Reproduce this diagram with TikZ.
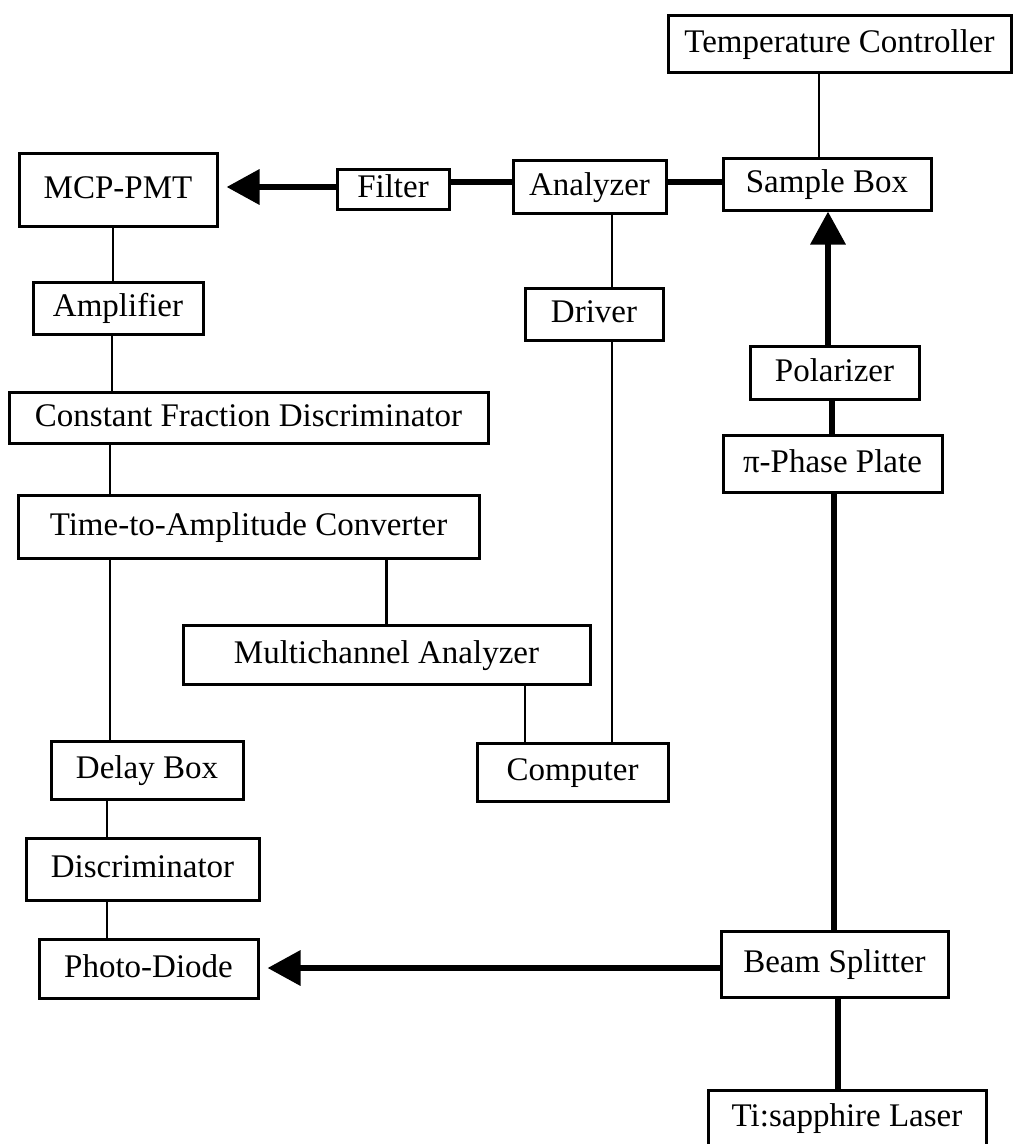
\documentclass[tikz,border=0pt]{standalone}
\usepackage{fontspec}
\setmainfont{Liberation Serif}
\usetikzlibrary{arrows.meta}
\tikzset{
  box/.style={draw, line width=3pt, inner sep=0pt, text height=22pt, text depth=5pt, font=\fontsize{33}{36}\selectfont},
  thinline/.style={line width=2.2pt},
  beam/.style={line width=6.5pt},
  bigarrow/.style={line width=6.5pt, -{Triangle[length=33pt,width=34pt]}},
}
\begin{document}
\begin{tikzpicture}[x=1pt,y=-1pt]
\useasboundingbox (0,0) rectangle (1013,1144);
\clip (0,0) rectangle (1013,1144);
% boxes
\node[box, minimum width=343pt, minimum height=57pt] (tc)  at (839.5,43.5) {Temperature Controller};
\node[box, minimum width=208pt, minimum height=52pt] (sb)  at (827,184)    {Sample Box};
\node[box, minimum width=153pt, minimum height=53pt] (an)  at (589.5,186.5) {Analyzer};
\node[box, minimum width=112pt, minimum height=40pt] (fi)  at (393,189)    {Filter};
\node[box, minimum width=198pt, minimum height=73pt] (mcp) at (118,189.5)  {MCP-PMT};
\node[box, minimum width=170pt, minimum height=52pt] (amp) at (118,308)    {Amplifier};
\node[box, minimum width=138pt, minimum height=52pt] (dr)  at (594,314)    {Driver};
\node[box, minimum width=169pt, minimum height=53pt] (pol) at (834.5,372.5) {Polarizer};
\node[box, minimum width=479pt, minimum height=51pt] (cfd) at (248.5,417.5) {Constant Fraction Discriminator};
\node[box, minimum width=219pt, minimum height=57pt] (ppp) at (832.5,463.5) {π-Phase Plate};
\node[box, minimum width=461pt, minimum height=63pt] (tac) at (248.5,526.5) {Time-to-Amplitude Converter};
\node[box, minimum width=407pt, minimum height=59pt] (mca) at (386.5,654.5) {Multichannel Analyzer};
\node[box, minimum width=192pt, minimum height=58pt] (dly) at (147,770)    {Delay Box};
\node[box, minimum width=191pt, minimum height=58pt] (cmp) at (572.5,772)  {Computer};
\node[box, minimum width=233pt, minimum height=62pt] (dis) at (142.5,869)  {Discriminator};
\node[box, minimum width=219pt, minimum height=59pt] (pd)  at (148.5,968.5) {Photo-Diode};
\node[box, minimum width=227pt, minimum height=66pt] (bs)  at (834.5,964)  {Beam Splitter};
\node[box, minimum width=278pt, minimum height=56pt] (ti)  at (847,1118)   {Ti:sapphire Laser};
% helper coordinates for connector positions
\coordinate (xTC) at (819,0);
\coordinate (xMCP) at (113,0);
\coordinate (xAMP) at (112,0);
\coordinate (xCFD) at (110,0);
\coordinate (xDLY) at (107,0);
\coordinate (xMCA) at (525,0);
\coordinate (xDR) at (612,0);
\coordinate (xPOL) at (828,0);
\coordinate (xPPP) at (832,0);
\coordinate (xBS) at (834,0);
\coordinate (xTI) at (838,0);
\coordinate (yTOP) at (0,182);
\coordinate (yFI) at (0,187);
\coordinate (yBS) at (0,968);
% thin electrical connections
\draw[thinline] (tc.south -| xTC) -- (sb.north -| xTC);
\draw[thinline] (mcp.south -| xMCP) -- (amp.north -| xMCP);
\draw[thinline] (amp.south -| xAMP) -- (cfd.north -| xAMP);
\draw[thinline] (cfd.south -| xCFD) -- (tac.north -| xCFD);
\draw[thinline] (tac.south -| xCFD) -- (dly.north -| xCFD);
\draw[thinline] (dly.south -| xDLY) -- (dis.north -| xDLY);
\draw[thinline] (dis.south -| xDLY) -- (pd.north -| xDLY);
\draw[thinline] (tac.south -| mca.north) -- (mca.north);
\draw[thinline] (mca.south -| xMCA) -- (cmp.north -| xMCA);
\draw[thinline] (an.south -| xDR) -- (dr.north -| xDR);
\draw[thinline] (dr.south -| xDR) -- (cmp.north -| xDR);
% optical beams
\draw[beam] (an.east |- yTOP) -- (sb.west |- yTOP);
\draw[beam] (fi.east |- yTOP) -- (an.west |- yTOP);
\draw[bigarrow, shorten >=8pt] (fi.west |- yFI) -- (mcp.east |- yFI);
\draw[bigarrow] (pol.north -| xPOL) -- (sb.south -| xPOL);
\draw[beam] (pol.south -| xPPP) -- (ppp.north -| xPPP);
\draw[beam] (ppp.south -| xBS) -- (bs.north -| xBS);
\draw[beam] (bs.south -| xTI) -- (ti.north -| xTI);
\draw[bigarrow, shorten >=8pt] (bs.west |- yBS) -- (pd.east |- yBS);
\end{tikzpicture}
\end{document}
